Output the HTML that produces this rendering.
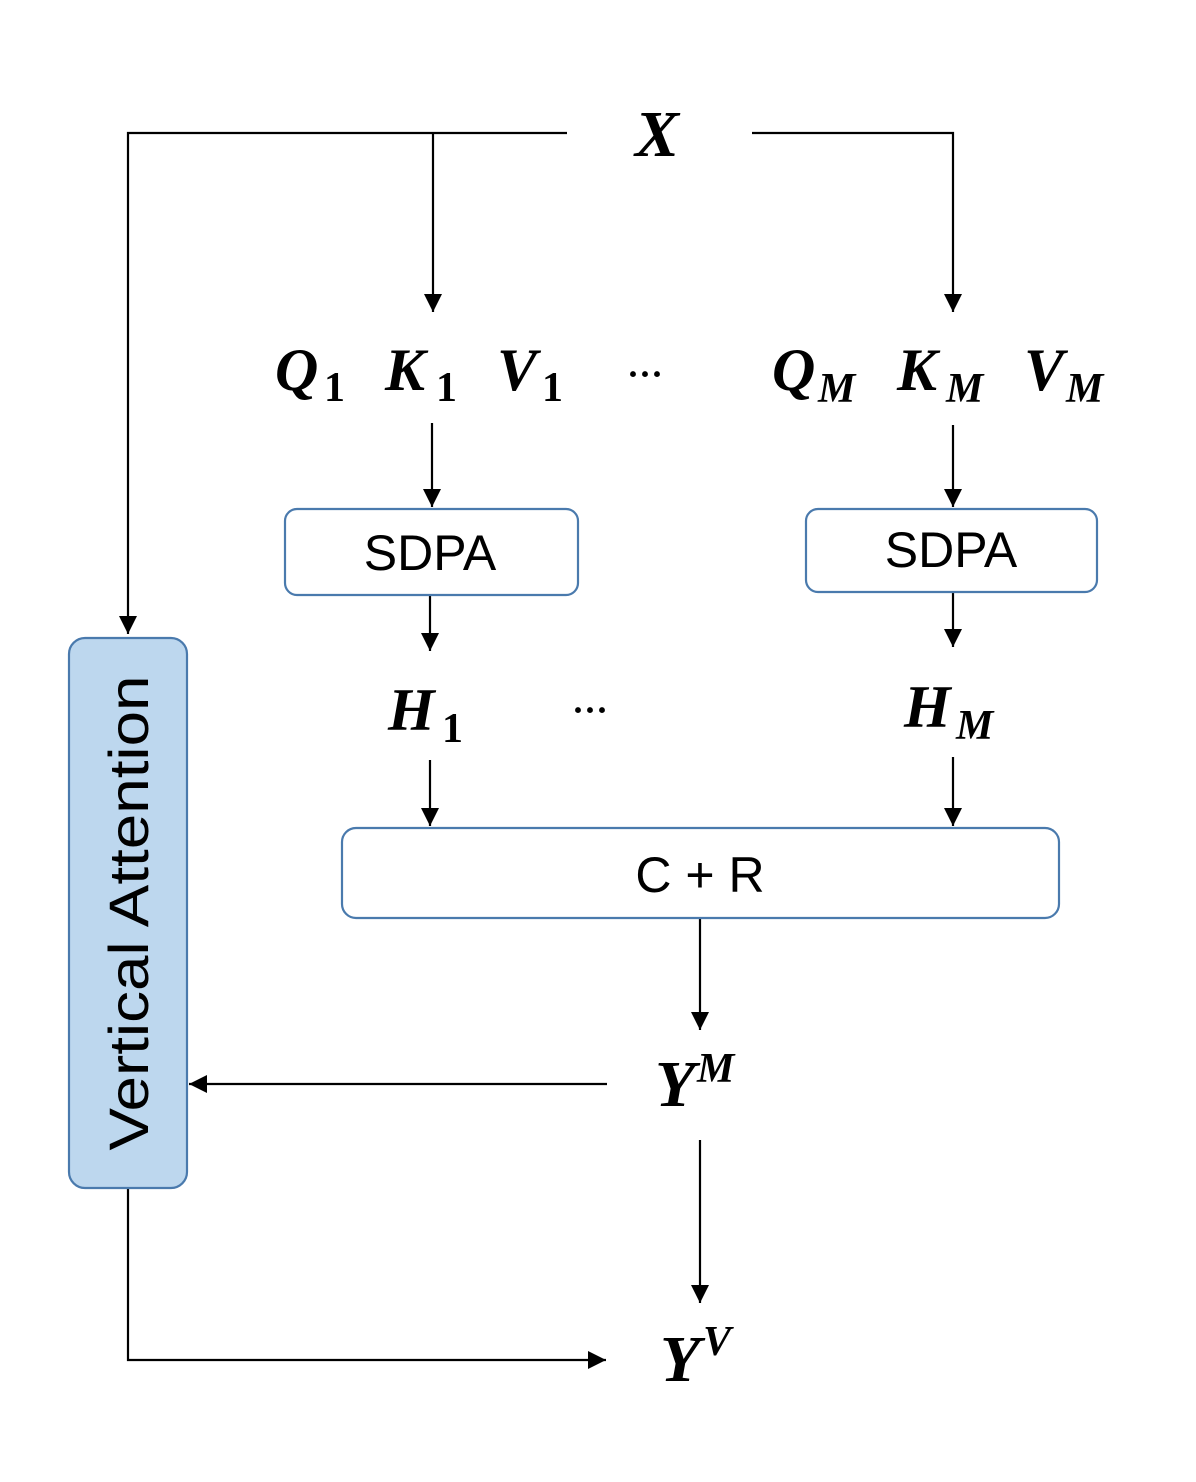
<!DOCTYPE html>
<html><head><meta charset="utf-8"><style>
html,body{margin:0;padding:0;background:#fff}
svg{display:block}
.m{font-family:"Liberation Serif",serif;font-weight:bold;font-style:italic;fill:#000}
.s{font-family:"Liberation Serif",serif;font-weight:bold;fill:#000}
.t{font-family:"Liberation Sans",sans-serif;fill:#000}
</style></head><body>
<svg width="1196" height="1482" viewBox="0 0 1196 1482" xmlns="http://www.w3.org/2000/svg">
<defs>
<marker id="b" viewBox="0 0 10 10" markerWidth="20" markerHeight="18" refX="10" refY="5" orient="auto" markerUnits="userSpaceOnUse"><path d="M0,0 L10,5 L0,10z" fill="#000"/></marker></defs>
<g stroke="#000" stroke-width="2.2" fill="none">
<polyline points="567,133 128,133 128,634" marker-end="url(#b)"/>
<line x1="433" y1="133" x2="433" y2="312" marker-end="url(#b)"/>
<polyline points="752,133 953,133 953,312" marker-end="url(#b)"/>
<line x1="432" y1="423" x2="432" y2="507" marker-end="url(#b)"/>
<line x1="953" y1="425" x2="953" y2="507" marker-end="url(#b)"/>
<line x1="430" y1="596" x2="430" y2="651" marker-end="url(#b)"/>
<line x1="953" y1="593" x2="953" y2="647" marker-end="url(#b)"/>
<line x1="430" y1="760" x2="430" y2="826" marker-end="url(#b)"/>
<line x1="953" y1="757" x2="953" y2="826" marker-end="url(#b)"/>
<line x1="700" y1="919" x2="700" y2="1030" marker-end="url(#b)"/>
<line x1="607" y1="1084" x2="189" y2="1084" marker-end="url(#b)"/>
<line x1="700" y1="1140" x2="700" y2="1303" marker-end="url(#b)"/>
<polyline points="128,1188 128,1360 606,1360" marker-end="url(#b)"/>
</g>
<g stroke="#4a7aad" stroke-width="2.2">
<rect x="285" y="509" width="293" height="86" rx="12" fill="#fff"/>
<rect x="806" y="509" width="291" height="83" rx="12" fill="#fff"/>
<rect x="342" y="828" width="717" height="90" rx="14" fill="#fff"/>
<rect x="69" y="638" width="118" height="550" rx="16" fill="#bdd7ee"/>
</g>
<text class="t" x="430" y="570" font-size="50" text-anchor="middle">SDPA</text>
<text class="t" x="951" y="567" font-size="50" text-anchor="middle">SDPA</text>
<text class="t" x="700" y="892" font-size="50" text-anchor="middle">C + R</text>
<text class="t" transform="translate(148,913) rotate(-90)" font-size="56" text-anchor="middle" textLength="475" lengthAdjust="spacingAndGlyphs">Vertical Attention</text>
<text class="m" x="657" y="156" font-size="66" text-anchor="middle">X</text>
<text class="m" x="275" y="390" font-size="60">Q</text><text class="s" x="324" y="401" font-size="42">1</text>
<text class="m" x="385" y="390" font-size="60">K</text><text class="s" x="436" y="401" font-size="42">1</text>
<text class="m" x="497" y="390" font-size="60">V</text><text class="s" x="542" y="401" font-size="42">1</text>
<text class="s" x="645" y="386" font-size="36" text-anchor="middle">···</text>
<text class="m" x="772" y="390" font-size="60">Q</text><text class="m" x="818" y="402" font-size="42">M</text>
<text class="m" x="897" y="390" font-size="60">K</text><text class="m" x="946" y="402" font-size="42">M</text>
<text class="m" x="1024" y="390" font-size="60">V</text><text class="m" x="1066" y="402" font-size="42">M</text>
<text class="m" x="388" y="730" font-size="60">H</text><text class="s" x="442" y="742" font-size="42">1</text>
<text class="s" x="590" y="722" font-size="36" text-anchor="middle">···</text>
<text class="m" x="904" y="727" font-size="60">H</text><text class="m" x="956" y="739" font-size="42">M</text>
<text class="m" x="655" y="1106" font-size="66">Y</text><text class="m" x="697" y="1082" font-size="42">M</text>
<text class="m" x="660" y="1381" font-size="66">Y</text><text class="m" x="703" y="1355" font-size="42">V</text>
</svg>
</body></html>
